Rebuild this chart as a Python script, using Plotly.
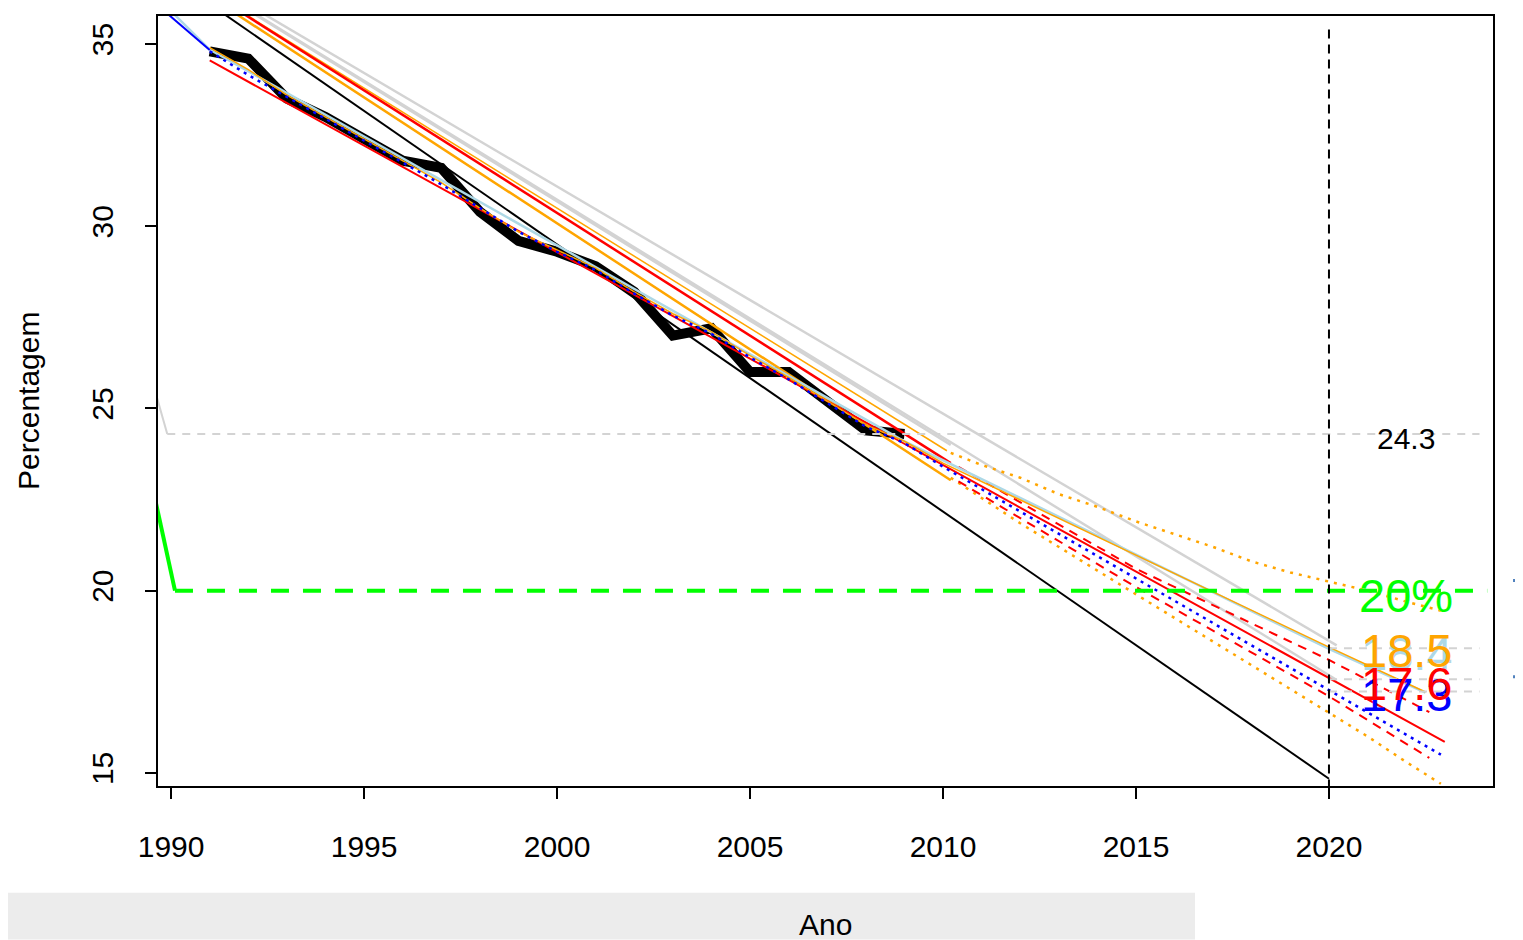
import plotly.graph_objects as go

# observed series
anos = list(range(1991, 2010))
observado = [34.8, 34.6, 33.5, 33.0, 32.4, 31.8, 31.6, 30.4, 29.6, 29.3,
             28.9, 28.2, 27.0, 27.2, 26.0, 26.0, 25.2, 24.4, 24.3]

# fitted values over the observed years
ajuste_laranja = [34.9, 34.3, 33.6, 33.0, 32.4, 31.8, 31.2, 30.5, 29.85, 29.35,
                  28.85, 28.2, 27.6, 27.1, 26.45, 25.85, 25.2, 24.55, 24.1]
ajuste_azul = [34.8, 34.15, 33.55, 32.95, 32.35, 31.75, 31.15, 30.5, 29.85, 29.3,
               28.8, 28.15, 27.55, 27.05, 26.4, 25.8, 25.15, 24.5, 24.05]

# forecasts
prev_laranja_x = [2009, 2010, 2020, 2022.5]
prev_laranja_y = [24.1, 23.5, 18.45, 17.22]
prev_claro_x = [1990, 1991, 2009, 2020, 2022.5]
prev_claro_y = [35.9, 34.85, 24.1, 18.4, 17.2]
prev_azul_x = [2009, 2010, 2020, 2022.9]
prev_azul_y = [24.05, 23.4, 17.27, 15.5]
azul_inicio_x = [1989.5, 1991]
azul_inicio_y = [36.2, 34.84]

ic_sup_x = [2010.2, 2011, 2012, 2013, 2014, 2015, 2016, 2017, 2018, 2019, 2020, 2021, 2022, 2022.9]
ic_sup_y = [23.78, 23.45, 23.1, 22.65, 22.3, 21.9, 21.55, 21.2, 20.8, 20.5, 20.25, 20.0, 19.7, 19.45]
ic_inf_x = [2010.2, 2012, 2014, 2016, 2018, 2020, 2021, 2022, 2022.9]
ic_inf_y = [23.1, 21.85, 20.55, 19.25, 17.95, 16.65, 16.0, 15.3, 14.7]

vm_sup_x = [2010.4, 2015, 2020, 2022.6]
vm_sup_y = [23.4, 20.6, 18.1, 16.67]
vm_inf_x = [2010.4, 2015, 2020, 2022.6]
vm_inf_y = [23.0, 20.1, 17.1, 15.41]

# straight trend lines (start, end)
tend_preta = ([1990, 2020], [36.83, 14.84])
tend_vermelha = ([1991, 2023], [34.55, 15.85])
tend_vermelha_2 = ([1991, 2010.2], [36.42, 23.5])
tend_laranja_a = ([1991, 2010.2], [36.3, 23.03])
tend_laranja_b = ([1991, 2010.1], [36.43, 23.84])
tend_cinza = [([1991, 2020.2], [36.7, 18.5]),
              ([1991, 2020.2], [36.6, 17.55]),
              ([1991, 2010.2], [36.58, 24.0])]

meta = 20
ultimo = 24.3
previsoes = [18.42, 17.57, 17.23]

fig = go.Figure()


def linha(x, y, cor, w=2, dash="solid"):
    fig.add_trace(go.Scatter(x=x, y=y, mode="lines", showlegend=False,
                             line=dict(color=cor, width=w, dash=dash)))


linha(anos, observado, "black", 10)
linha(*tend_preta, "black", 2)
for x, y in tend_cinza:
    linha(x, y, "#D3D3D3", 2.5)
linha(*tend_laranja_a, "#FFA500", 2.5)
linha(*tend_laranja_b, "#FFA500", 1.5)
linha(*tend_vermelha_2, "#FF0000", 2.5)
linha(ic_sup_x, ic_sup_y, "#FFA500", 2.5, "3px,6px")
linha(ic_inf_x, ic_inf_y, "#FFA500", 2.5, "3px,6px")
linha(*tend_vermelha, "#FF0000", 2)
linha(vm_sup_x, vm_sup_y, "#FF0000", 2, "9px,7px")
linha(vm_inf_x, vm_inf_y, "#FF0000", 2, "9px,7px")
linha(prev_claro_x, prev_claro_y, "#ADD8E6", 2.5)
linha(anos + prev_laranja_x[1:], ajuste_laranja + prev_laranja_y[1:], "#FFA500", 1.5)
linha(azul_inicio_x, azul_inicio_y, "#0000FF", 2)
linha(anos + prev_azul_x[1:], ajuste_azul + prev_azul_y[1:], "#0000FF", 2.5, "3px,5px")

# reference lines
linha([1989.5, 1989.9], [25.8, ultimo], "#D3D3D3", 2)
linha([1989.9, 2023.9], [ultimo, ultimo], "#D3D3D3", 2, "8px,7px")
for v in previsoes:
    linha([2020, 2023.9], [v, v], "#D3D3D3", 2, "8px,7px")
linha([1989.5, 1990.1], [22.93, meta], "#00FF00", 4)
linha([1990.1, 2024.1], [meta, meta], "#00FF00", 4, "18px,14px")
linha([2020, 2020], [35.4, 14.5], "black", 2, "9px,6px")

rotulos = [("24.3", ultimo, "black", 30),
           ("20%", meta, "#00FF00", 47),
           ("18.4", 18.4, "#ADD8E6", 47),
           ("18.5", 18.5, "#FFA500", 47),
           ("17.3", 17.3, "#0000FF", 47),
           ("17.6", 17.6, "#FF0000", 47)]
for txt, v, cor, tam in rotulos:
    fig.add_annotation(x=2022, y=v, text=txt, showarrow=False, xanchor="center",
                       yanchor="middle", yshift=-5, font=dict(color=cor, size=tam))

fig.add_annotation(xref="paper", yref="paper", x=-0.0974, y=0.5, text="Percentagem",
                   textangle=-90, showarrow=False, xanchor="center", yanchor="middle",
                   font=dict(size=30, color="black"))
fig.add_annotation(xref="paper", yref="paper", x=0.5, y=-0.180, text="Ano",
                   showarrow=False, xanchor="center", yanchor="middle",
                   font=dict(size=30, color="black"))

fig.add_shape(type="rect", xref="paper", yref="paper", x0=-0.1184, x1=0.7768,
              y0=-0.1995, y1=-0.1386, fillcolor="#ececec", line_width=0, layer="below")
for py in (0.2668, 0.1418):
    fig.add_shape(type="rect", xref="paper", yref="paper", x0=1.0150, x1=1.0225,
                  y0=py - 0.002, y1=py + 0.002, fillcolor="#4F81BD", line_width=0)

eixo = dict(showline=True, mirror=True, linecolor="black", linewidth=2, ticks="outside",
            ticklen=11, tickwidth=2, tickcolor="black", showgrid=False, zeroline=False,
            tickfont=dict(size=30, color="black"))
fig.update_xaxes(range=[1989.66, 2024.25], tickvals=[1990, 1995, 2000, 2005, 2010, 2015, 2020],
                 ticklabelstandoff=22, **eixo)
fig.update_yaxes(range=[14.64, 35.77], tickvals=[15, 20, 25, 30, 35], tickangle=-90,
                 ticklabelstandoff=20, **eixo)
# the page body adds an 8px margin, so the figure is 8px smaller on each axis
fig.update_layout(width=1515, height=932, margin=dict(l=150, r=30, t=6, b=154),
                  plot_bgcolor="white", paper_bgcolor="white",
                  font=dict(family="Liberation Sans, Arial, sans-serif"))
fig.write_html("out.html")
